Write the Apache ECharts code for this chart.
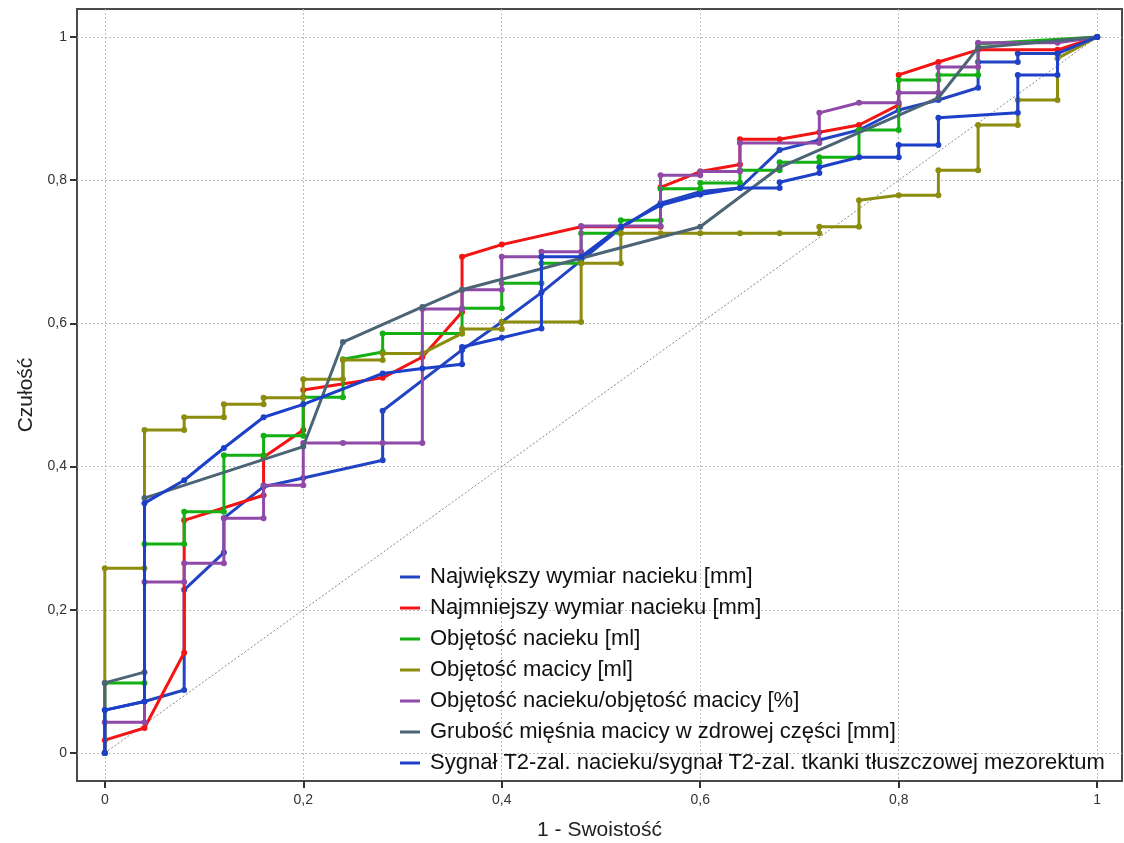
<!DOCTYPE html>
<html>
<head>
<meta charset="utf-8">
<title>ROC</title>
<script src="https://cdn.jsdelivr.net/npm/echarts@6/dist/echarts.min.js"></script>
<style>
  html, body { margin: 0; padding: 0; background: #fff; }
  #roc { width: 1124px; height: 843px; }
</style>
</head>
<body>
<div id="roc"></div>
<script>
// punkty krzywych ROC: [1 - swoistość, czułość]
var najwiekszy = [[0,0],[0,0.06],[0.04,0.072],[0.08,0.088],[0.08,0.228],[0.12,0.28],[0.12,0.328],[0.16,0.372],[0.2,0.384],[0.28,0.409],[0.28,0.478],[0.36,0.563],[0.4,0.602],[0.44,0.643],[0.48,0.688],[0.52,0.733],[0.56,0.768],[0.6,0.784],[0.64,0.789],[0.68,0.842],[0.72,0.856],[0.76,0.87],[0.8,0.898],[0.84,0.912],[0.88,0.929],[0.88,0.965],[0.92,0.965],[0.92,0.977],[0.96,0.977],[1,1]];
var najmniejszy = [[0,0],[0,0.018],[0.04,0.035],[0.08,0.14],[0.08,0.325],[0.16,0.36],[0.16,0.413],[0.2,0.451],[0.2,0.507],[0.28,0.524],[0.32,0.553],[0.36,0.616],[0.36,0.693],[0.4,0.71],[0.48,0.735],[0.56,0.735],[0.56,0.79],[0.6,0.812],[0.64,0.822],[0.64,0.857],[0.68,0.857],[0.72,0.867],[0.76,0.877],[0.8,0.905],[0.8,0.947],[0.84,0.965],[0.88,0.982],[0.96,0.982],[1,1]];
var objNacieku = [[0,0],[0,0.098],[0.04,0.098],[0.04,0.292],[0.08,0.292],[0.08,0.337],[0.12,0.337],[0.12,0.416],[0.16,0.416],[0.16,0.443],[0.2,0.443],[0.2,0.497],[0.24,0.497],[0.24,0.55],[0.28,0.56],[0.28,0.586],[0.36,0.586],[0.36,0.621],[0.4,0.621],[0.4,0.656],[0.44,0.656],[0.44,0.684],[0.48,0.684],[0.48,0.726],[0.52,0.726],[0.52,0.744],[0.56,0.744],[0.56,0.788],[0.6,0.788],[0.6,0.796],[0.64,0.796],[0.64,0.814],[0.68,0.814],[0.68,0.825],[0.72,0.825],[0.72,0.832],[0.76,0.832],[0.76,0.87],[0.8,0.87],[0.8,0.94],[0.84,0.94],[0.84,0.947],[0.88,0.947],[0.88,0.99],[1,1]];
var objMacicy = [[0,0],[0,0.258],[0.04,0.258],[0.04,0.451],[0.08,0.451],[0.08,0.469],[0.12,0.469],[0.12,0.487],[0.16,0.487],[0.16,0.496],[0.2,0.496],[0.2,0.522],[0.24,0.522],[0.24,0.549],[0.28,0.549],[0.28,0.558],[0.32,0.558],[0.36,0.586],[0.36,0.592],[0.4,0.592],[0.4,0.602],[0.48,0.602],[0.48,0.684],[0.52,0.684],[0.52,0.726],[0.56,0.726],[0.6,0.726],[0.64,0.726],[0.68,0.726],[0.72,0.726],[0.72,0.735],[0.76,0.735],[0.76,0.772],[0.8,0.779],[0.84,0.779],[0.84,0.814],[0.88,0.814],[0.88,0.877],[0.92,0.877],[0.92,0.912],[0.96,0.912],[0.96,0.97],[1,1]];
var objProcent = [[0,0],[0,0.043],[0.04,0.043],[0.04,0.239],[0.08,0.239],[0.08,0.265],[0.12,0.265],[0.12,0.328],[0.16,0.328],[0.16,0.374],[0.2,0.374],[0.2,0.433],[0.24,0.433],[0.28,0.433],[0.32,0.433],[0.32,0.62],[0.36,0.62],[0.36,0.647],[0.4,0.647],[0.4,0.693],[0.44,0.693],[0.44,0.7],[0.48,0.7],[0.48,0.736],[0.56,0.736],[0.56,0.807],[0.6,0.807],[0.6,0.812],[0.64,0.812],[0.64,0.852],[0.72,0.852],[0.72,0.894],[0.76,0.908],[0.8,0.908],[0.8,0.922],[0.84,0.922],[0.84,0.958],[0.88,0.958],[0.88,0.992],[0.96,0.992],[1,1]];
var grubosc = [[0,0],[0,0.098],[0.04,0.113],[0.04,0.356],[0.2,0.428],[0.24,0.574],[0.32,0.623],[0.36,0.647],[0.6,0.735],[0.68,0.818],[0.84,0.915],[0.88,0.985],[1,1]];
var sygnal = [[0,0],[0,0.06],[0.04,0.072],[0.04,0.349],[0.08,0.381],[0.12,0.426],[0.16,0.469],[0.2,0.487],[0.28,0.53],[0.32,0.537],[0.36,0.543],[0.36,0.567],[0.4,0.58],[0.44,0.593],[0.44,0.693],[0.48,0.693],[0.52,0.735],[0.56,0.765],[0.6,0.78],[0.64,0.789],[0.68,0.789],[0.68,0.797],[0.72,0.81],[0.72,0.818],[0.76,0.832],[0.8,0.832],[0.8,0.849],[0.84,0.849],[0.84,0.887],[0.92,0.894],[0.92,0.947],[0.96,0.947],[0.96,0.977],[1,1]];
var przekatna = [[0,0],[1,1]];

var nazwy = ['Największy wymiar nacieku [mm]', 'Najmniejszy wymiar nacieku [mm]', 'Objętość nacieku [ml]',
  'Objętość macicy [ml]', 'Objętość nacieku/objętość macicy [%]', 'Grubość mięśnia macicy w zdrowej części [mm]',
  'Sygnał T2-zal. nacieku/sygnał T2-zal. tkanki tłuszczowej mezorektum'];
var kolory = ['#2244c2', '#f41414', '#12b012', '#8c8c0e', '#8f4aa8', '#4b6577', '#1d40c8'];
var dane = [najwiekszy, najmniejszy, objNacieku, objMacicy, objProcent, grubosc, sygnal];
var ticki = [0, 0.2, 0.4, 0.6, 0.8, 1];

function fmt(v) {
  return String(v).replace('.', ',');
}

var chart = echarts.init(document.getElementById('roc'));

var series = [{
  name: 'przekatna',
  type: 'line',
  data: przekatna,
  symbol: 'none',
  silent: true,
  lineStyle: { color: '#8a8a8a', width: 1, type: [2, 2] },
  z: 1
}];
for (var i = 0; i < dane.length; i++) {
  series.push({
    name: nazwy[i],
    type: 'line',
    data: dane[i],
    symbol: 'circle',
    symbolSize: 6,
    showAllSymbol: true,
    color: kolory[i],
    lineStyle: { color: kolory[i], width: 3 },
    itemStyle: { color: kolory[i] },
    z: 2 + i
  });
}

var font = '"Liberation Sans", Arial, sans-serif';

var option = {
  animation: false,
  backgroundColor: '#fff',
  grid: {
    left: 77, right: 2, top: 9, bottom: 62,
    outerBoundsMode: 'none',
    containLabel: false,
    show: true,
    borderColor: '#4a4a4a',
    borderWidth: 2,
    backgroundColor: '#fff'
  },
  legend: {
    data: nazwy,
    orient: 'vertical',
    left: 400,
    top: 566,
    icon: 'rect',
    itemWidth: 20,
    itemHeight: 3,
    itemGap: 9,
    padding: 0,
    textStyle: {
      fontFamily: font,
      fontSize: 22,
      lineHeight: 21,
      padding: [0, 0, 0, 5],
      color: '#111'
    }
  },
  xAxis: {
    type: 'value',
    min: -0.028,
    max: 1.025,
    name: '1 - Swoistość',
    nameLocation: 'middle',
    nameGap: 39,
    nameTextStyle: { fontFamily: font, fontSize: 21, color: '#222' },
    axisLine: { show: false, onZero: false },
    axisTick: { show: true, customValues: ticki, length: 7, lineStyle: { color: '#333', width: 2 } },
    axisLabel: { customValues: ticki, formatter: fmt, margin: 12, fontSize: 14, color: '#333', fontFamily: font },
    splitLine: { show: true, lineStyle: { color: '#bdbdbd', width: 1, type: [2, 2] } }
  },
  yAxis: {
    type: 'value',
    min: -0.039,
    max: 1.039,
    name: 'Czułość',
    nameLocation: 'middle',
    nameGap: 40,
    nameTextStyle: { fontFamily: font, fontSize: 21, color: '#222' },
    axisLine: { show: false, onZero: false },
    axisTick: { show: true, customValues: ticki, length: 7, lineStyle: { color: '#333', width: 2 } },
    axisLabel: { customValues: ticki, formatter: fmt, margin: 10, fontSize: 14, color: '#333', fontFamily: font },
    splitLine: { show: true, lineStyle: { color: '#bdbdbd', width: 1, type: [2, 2] } }
  },
  series: series
};

chart.setOption(option);
</script>
</body>
</html>
